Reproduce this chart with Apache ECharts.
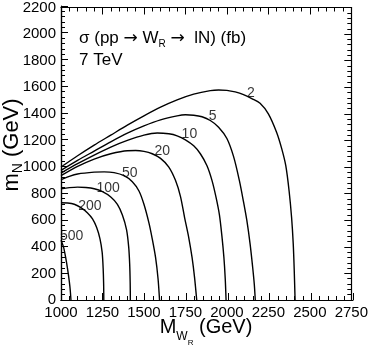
<!DOCTYPE html>
<html>
<head>
<meta charset="utf-8">
<script src="https://cdn.jsdelivr.net/npm/echarts@6/dist/echarts.min.js"></script>
<style>
html, body { margin: 0; padding: 0; background: #fff; }
#main { width: 371px; height: 347px; }
</style>
</head>
<body>
<div id="main"></div>
<script>
// contour lines of sigma (fb), points as [M_WR, m_N]
var c2 = [[1000,1000],[1100,1085],[1200,1165],[1300,1240],[1400,1315],[1500,1385],[1600,1450],[1700,1505],[1800,1548],[1900,1575],[1950,1580],[2000,1577],[2050,1565],[2100,1545],[2150,1515],[2200,1480],[2250,1400],[2300,1260],[2330,1140],[2355,1010],[2375,820],[2390,620],[2400,420],[2406,220],[2411,0]];
var c5 = [[1000,975],[1100,1050],[1200,1120],[1300,1190],[1400,1255],[1500,1310],[1600,1355],[1700,1385],[1750,1393],[1800,1390],[1850,1378],[1900,1350],[1950,1300],[2000,1215],[2040,1080],[2075,900],[2100,740],[2120,600],[2140,420],[2155,250],[2165,120],[2171,0]];
var c10 = [[1000,955],[1100,1025],[1200,1090],[1300,1150],[1400,1200],[1500,1240],[1580,1256],[1650,1250],[1700,1235],[1750,1205],[1800,1160],[1840,1100],[1880,1010],[1910,900],[1935,770],[1955,640],[1970,480],[1982,320],[1990,160],[1995,0]];
var c20 = [[1000,935],[1100,1005],[1200,1060],[1300,1100],[1400,1123],[1450,1124],[1500,1118],[1550,1100],[1600,1065],[1650,1000],[1690,900],[1720,780],[1745,620],[1770,470],[1790,320],[1805,170],[1818,0]];
var c50 = [[1000,905],[1050,930],[1100,948],[1200,962],[1260,964],[1320,958],[1380,935],[1430,890],[1470,820],[1500,720],[1530,580],[1550,460],[1570,320],[1585,160],[1594,0]];
var c100 = [[1000,837],[1050,845],[1100,849],[1150,846],[1200,837],[1250,815],[1300,775],[1340,720],[1370,640],[1395,530],[1408,400],[1414,270],[1417,130],[1418,0]];
var c200 = [[1000,732],[1040,730],[1080,720],[1120,695],[1160,655],[1190,610],[1215,545],[1235,460],[1248,360],[1254,240],[1257,120],[1258,0]];
var c500 = [[1000,450],[1015,400],[1028,320],[1040,230],[1050,140],[1056,70],[1060,0]];
var contours = [c2, c5, c10, c20, c50, c100, c200, c500];

// contour level labels [x, y, text]
var levelLabels = [[2144,1555,'2'],[1914,1380,'5'],[1774,1245,'10'],[1610,1119,'20'],[1414,956,'50'],[1284,844,'100'],[1174,707,'200'],[1064,483,'500']];

var xMin = 1000, xMax = 2750, xStep = 250;
var yMin = 0, yMax = 2200, yStep = 200;

var FONT = 'Liberation Sans, Arial, sans-serif';
var ARROW = 'DejaVu Sans, sans-serif';
var myChart = echarts.init(document.getElementById('main'));

// withLabels: the axis the series use (labels only)
// otherwise: an axis that only draws the inward ticks
function makeAxis(dim, pos, withLabels, gridIndex) {
	return {
		type: 'value',
		gridIndex: gridIndex,
		position: pos,
		min: dim === 'x' ? xMin : yMin,
		max: dim === 'x' ? xMax : yMax,
		interval: dim === 'x' ? xStep : yStep,
		axisLine: { show: true, onZero: false, lineStyle: { color: '#000', width: 1.2 } },
		axisTick: { show: !withLabels, inside: true, length: 7, lineStyle: { color: '#000', width: 1 } },
		minorTick: { show: !withLabels, splitNumber: 5, length: 4, lineStyle: { color: '#000', width: 1 } },
		splitLine: { show: false },
		axisLabel: {
			show: withLabels, color: '#000', fontSize: 15, fontFamily: FONT, margin: 5,
			formatter: function (v) { return String(v); }
		}
	};
}

var series = contours.map(function (c) {
	return {
		type: 'line',
		data: c,
		showSymbol: false,
		smooth: 0.3,
		silent: true,
		lineStyle: { color: '#000', width: 1.4 }
	};
});
series.push({
	type: 'scatter',
	data: levelLabels,
	symbolSize: 1,
	silent: true,
	itemStyle: { color: 'rgba(0,0,0,0)' },
	label: {
		show: true,
		position: 'inside',
		color: '#000',
		fontSize: 14,
		fontFamily: FONT,
		formatter: function (p) { return p.value[2]; }
	}
});

var gridRect = { left: 61, right: 18, top: 6, bottom: 47 };

var option = {
	animation: false,
	backgroundColor: '#fff',
	// grid 1 lies on top of grid 0 and only carries the bottom / left ticks
	grid: [gridRect, gridRect],
	xAxis: [
		makeAxis('x', 'bottom', true, 0),
		makeAxis('x', 'top', false, 0),
		makeAxis('x', 'bottom', false, 1)
	],
	yAxis: [
		makeAxis('y', 'left', true, 0),
		makeAxis('y', 'right', false, 0),
		makeAxis('y', 'left', false, 1)
	],
	series: series,
	graphic: [
		{
			type: 'text', left: 79, top: 30,
			style: {
				text: '{a|σ (pp }{ar|→}{a| W}{s|R}{a| }{ar|→}{a|  lN) (fb)}',
				fill: '#000',
				rich: {
					a: { fontSize: 17, fontFamily: FONT, color: '#000' },
					ar: { fontSize: 17, fontFamily: ARROW, color: '#000' },
					s: { fontSize: 10, fontFamily: FONT, color: '#000', padding: [12, 0, 0, 0] }
				}
			}
		},
		{
			type: 'text', left: 79, top: 52,
			style: { text: '7 TeV', fill: '#000', font: '17px ' + FONT }
		},
		{
			type: 'text', x: 206, y: 327,
			style: {
				text: '{a|M}{w|W}{r|R}{a| (GeV)}',
				fill: '#000', align: 'center', verticalAlign: 'middle',
				rich: {
					a: { fontSize: 20, fontFamily: FONT, color: '#000' },
					w: { fontSize: 12, fontFamily: FONT, color: '#000', padding: [19, 0, 0, 0] },
					r: { fontSize: 8, fontFamily: FONT, color: '#000', padding: [31, 0, 0, 0] }
				}
			}
		},
		{
			type: 'text', x: 12, y: 145, rotation: Math.PI / 2,
			style: {
				text: '{a|m}{n|N}{a| (GeV)}',
				fill: '#000', align: 'center', verticalAlign: 'middle',
				rich: {
					a: { fontSize: 22, fontFamily: FONT, color: '#000' },
					n: { fontSize: 14, fontFamily: FONT, color: '#000', padding: [12, 0, 0, 0] }
				}
			}
		}
	]
};

myChart.setOption(option);
</script>
</body>
</html>
